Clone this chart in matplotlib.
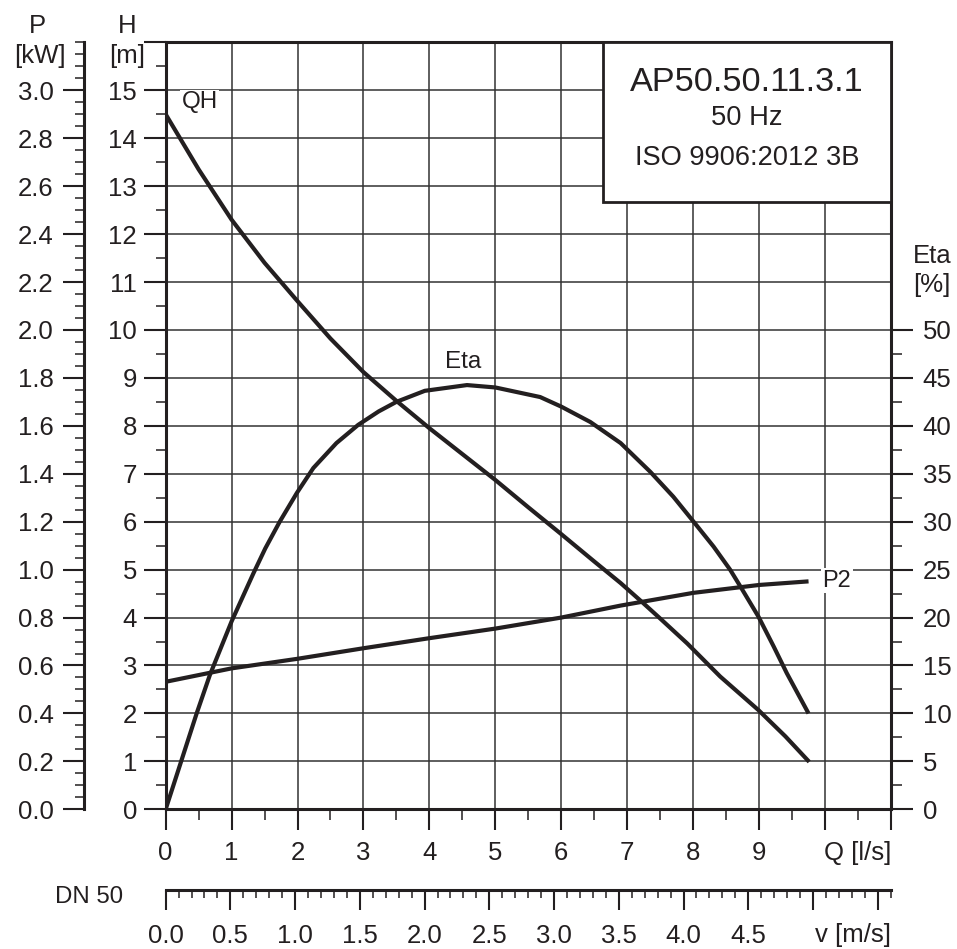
import matplotlib
matplotlib.use('Agg')
import matplotlib.pyplot as plt
from matplotlib.patches import Rectangle
from matplotlib.ticker import MultipleLocator, FixedLocator

plt.rcParams['font.family'] = ['Liberation Sans', 'DejaVu Sans']

INK = '#231f20'

# QH curve: flow Q [l/s] vs head H [m]
q_qh = [0, 0.5, 1, 1.5, 2, 2.5, 3, 3.5, 4, 4.5, 5, 5.5, 6, 6.5, 6.9, 7.22, 7.5, 7.91, 8.41, 8.99, 9.4, 9.76]
h_qh = [14.5, 13.35, 12.3, 11.4, 10.6, 9.82, 9.12, 8.52, 7.95, 7.41, 6.87, 6.3, 5.74, 5.17, 4.72, 4.33, 3.98, 3.46, 2.77, 2.07, 1.52, 0.99]

# efficiency curve [%]
q_eta = [0, 0.47, 0.67, 1.0, 1.33, 1.51, 1.73, 1.99, 2.24, 2.59, 2.92, 3.23, 3.5, 3.93, 4.57, 5.0,
         5.68, 6.0, 6.44, 6.9, 7.35, 7.7, 8.03, 8.31, 8.56, 8.72, 8.99, 9.22, 9.42, 9.75]
eta = [0, 10, 14.0, 19.6, 24.6, 27.2, 30.0, 33.0, 35.6, 38.2, 40.1, 41.5, 42.5, 43.65, 44.25, 44.0,
       43.0, 42.0, 40.4, 38.2, 35.2, 32.6, 29.8, 27.4, 25.0, 23.2, 20.1, 17.0, 14.2, 10.0]

# shaft power P2 [kW]
q_p2 = [0, 1, 2, 3, 4, 5, 6, 6.9, 8, 9, 9.75]
p2 = [0.532, 0.588, 0.628, 0.672, 0.714, 0.754, 0.80, 0.85, 0.903, 0.936, 0.951]

q_ticks = [0, 1, 2, 3, 4, 5, 6, 7, 8, 9, 10, 11]
q_labels = ['0', '1', '2', '3', '4', '5', '6', '7', '8', '9', '', '']
v_ticks = [0, 0.5, 1.0, 1.5, 2.0, 2.5, 3.0, 3.5, 4.0, 4.5, 5.0, 5.5]
v_labels = ['0.0', '0.5', '1.0', '1.5', '2.0', '2.5', '3.0', '3.5', '4.0', '4.5', '', '']
eta_ticks = [0, 5, 10, 15, 20, 25, 30, 35, 40, 45, 50]

v_per_q = 4 / (3.14159265 * 0.05 ** 2) / 1000  # DN 50 pipe, m/s per l/s

FS = 18.5

fig = plt.figure(figsize=(9.57, 9.49), dpi=100)
ax = fig.add_axes([0.1731, 0.1472, 0.7579, 0.8082])
ax.set_xlim(0, 11)
ax.set_ylim(0, 16)

# H axis + grid
ax.xaxis.set_major_locator(FixedLocator(q_ticks))
ax.set_xticklabels(q_labels)
ax.xaxis.set_minor_locator(MultipleLocator(0.5))
ax.set_yticks(range(17))
ax.set_yticklabels([str(i) if i <= 15 else '' for i in range(17)])
ax.yaxis.set_minor_locator(MultipleLocator(0.5))
ax.grid(True, which='major', color='#333333', linewidth=1.1)
ax.set_axisbelow(True)
ax.tick_params(axis='y', which='major', length=15.8, width=1.5, pad=4.8, labelsize=FS, colors=INK)
ax.tick_params(axis='y', which='minor', length=7.2, width=1.1, colors=INK)
ax.tick_params(axis='x', which='major', length=15, width=1.5, pad=8, labelsize=FS, colors=INK)
ax.tick_params(axis='x', which='minor', length=8, width=1.1, colors=INK)
for s in ax.spines.values():
    s.set_linewidth(2.2)
    s.set_color(INK)

ax.plot(q_qh, h_qh, color=INK, lw=3, solid_capstyle='butt', solid_joinstyle='round', zorder=3)

# P axis (far left)
ax2 = ax.twinx()
ax2.set_ylim(0, 3.2)
ax2.yaxis.tick_left()
for k in ['right', 'top', 'bottom']:
    ax2.spines[k].set_visible(False)
ax2.spines['left'].set_position(('outward', 58.8))
ax2.spines['left'].set_linewidth(2.2)
ax2.spines['left'].set_color(INK)
ax2.set_yticks([i * 0.2 for i in range(16)])
ax2.set_yticklabels([f'{i * 0.2:.1f}' for i in range(16)])
ax2.yaxis.set_minor_locator(MultipleLocator(0.05))
ax2.tick_params(axis='y', which='major', length=15, width=1.5, pad=7, labelsize=FS, colors=INK)
ax2.tick_params(axis='y', which='minor', length=6.5, width=1.1, colors=INK)
ax2.plot(q_p2, p2, color=INK, lw=3, solid_capstyle='butt', solid_joinstyle='round', zorder=3)

# Eta axis (right)
ax3 = ax.twinx()
ax3.set_ylim(0, 80)
for s in ax3.spines.values():
    s.set_visible(False)
ax3.yaxis.set_major_locator(FixedLocator(eta_ticks))
ax3.yaxis.set_minor_locator(FixedLocator([e + 2.5 for e in eta_ticks[:-1]]))
ax3.tick_params(axis='y', which='major', length=15.8, width=1.5, pad=7, labelsize=FS, colors=INK)
ax3.tick_params(axis='y', which='minor', length=8, width=1.1, colors=INK)
ax3.plot(q_eta, eta, color=INK, lw=3, solid_capstyle='butt', solid_joinstyle='round', zorder=3)

# velocity ruler
ax4 = ax.twiny()
ax4.set_xlim(0, 11 * v_per_q)
ax4.xaxis.tick_bottom()
for k in ['right', 'top', 'left']:
    ax4.spines[k].set_visible(False)
ax4.spines['bottom'].set_position(('outward', 58))
ax4.spines['bottom'].set_linewidth(2.2)
ax4.spines['bottom'].set_color(INK)
ax4.xaxis.set_major_locator(FixedLocator(v_ticks))
ax4.set_xticklabels(v_labels)
ax4.xaxis.set_minor_locator(MultipleLocator(0.1))
ax4.tick_params(axis='x', which='major', length=14.4, width=1.5, pad=10, labelsize=FS, colors=INK)
ax4.tick_params(axis='x', which='minor', length=5.8, width=1.1, colors=INK)

# curve labels
box = dict(facecolor='white', edgecolor='none', pad=1)
ax.annotate('QH', xy=(q_qh[0], h_qh[0]), xytext=(24.5, 8.5), textcoords='offset points',
            ha='center', va='center', fontsize=17.5, color=INK, bbox=box, zorder=4)
i_max = eta.index(max(eta))
ax3.annotate('Eta', xy=(q_eta[i_max], eta[i_max]), xytext=(-2.7, 16.5), textcoords='offset points',
             ha='center', va='center', fontsize=17.5, color=INK, bbox=box, zorder=4)
ax2.annotate('P2', xy=(q_p2[-1], p2[-1]), xytext=(10, 0.5), textcoords='offset points',
             ha='left', va='center', fontsize=17, color=INK, bbox=box, zorder=4)

# axis titles
def title(txt, xy, off, ha='center', size=FS):
    ax.annotate(txt, xy=xy, xycoords='axes fraction', xytext=off, textcoords='offset points',
                ha=ha, va='center', fontsize=size, color=INK, annotation_clip=False)

title('P', (0, 1), (-92, 11.7))
title('[kW]', (0, 1), (-90.5, -9.9))
title('H', (0, 1), (-27.9, 11.7))
title('[m]', (0, 1), (-27.9, -9.9))
title('Eta', (1, 1), (29.5, -153.5))
title('[%]', (1, 1), (29.5, -175))
title('Q [l/s]', (1, 0), (0, -31.5), ha='right')
title('v [m/s]', (1, 0), (0, -90.5), ha='right')
title('DN 50', (0, 0), (-30.7, -63.1), ha='right', size=17.3)

# info box
ax.add_patch(Rectangle((0.603, 0.7918), 0.397, 0.2082, transform=ax.transAxes,
                       facecolor='white', edgecolor=INK, linewidth=2, zorder=5))
ax.text(0.8017, 0.948, 'AP50.50.11.3.1', transform=ax.transAxes, ha='center', va='center',
        fontsize=24.7, color=INK, zorder=6)
ax.text(0.8017, 0.9013, '50 Hz', transform=ax.transAxes, ha='center', va='center',
        fontsize=19.6, color=INK, zorder=6)
ax.text(0.8017, 0.849, 'ISO 9906:2012 3B', transform=ax.transAxes, ha='center', va='center',
        fontsize=19.6, color=INK, zorder=6)

fig.savefig('out.png', dpi=100)
